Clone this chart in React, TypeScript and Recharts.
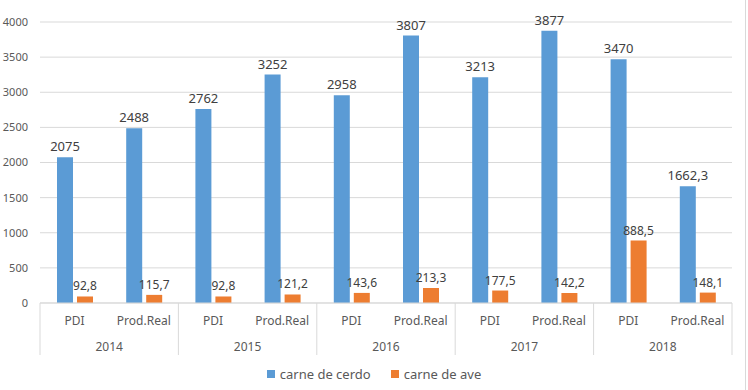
import React from "react";
import {
  Bar,
  BarChart,
  CartesianGrid,
  LabelList,
  Legend,
  XAxis,
  YAxis,
} from "recharts";

const years = ["2014", "2015", "2016", "2017", "2018"];
const categories = ["PDI", "Prod.Real"];
const carneDeCerdo = [2075, 2488, 2762, 3252, 2958, 3807, 3213, 3877, 3470, 1662.3];
const carneDeAve = [92.8, 115.7, 92.8, 121.2, 143.6, 213.3, 177.5, 142.2, 888.5, 148.1];
const yTicks = [0, 500, 1000, 1500, 2000, 2500, 3000, 3500, 4000];

const data = years.flatMap((year, yi) =>
  categories.map((cat, ci) => {
    const i = yi * categories.length + ci;
    return {
      key: `${year}-${cat}`,
      year,
      cat,
      cerdo: carneDeCerdo[i],
      ave: carneDeAve[i],
    };
  })
);

const WIDTH = 748;
const HEIGHT = 390;
const PLOT_LEFT = 40;
const PLOT_RIGHT = 732;
const BAND = (PLOT_RIGHT - PLOT_LEFT) / data.length;
const TEXT = "#595959";
const GRID = "#d9d9d9";
const FONT = "'Noto Sans', sans-serif";

const fmt = (v: any) => String(v).replace(".", ",");

const TwoLevelTick = (props: any) => {
  const { x, y, payload } = props;
  const row = data[payload.index];
  const first = payload.index % categories.length === 0;
  const last = payload.index === data.length - 1;
  return (
    <g>
      <text x={x} y={y + 22} textAnchor="middle" fill={TEXT} fontSize={12} fontFamily={FONT}>
        {row.cat}
      </text>
      {first && (
        <>
          <line x1={x - BAND / 2} x2={x - BAND / 2} y1={y} y2={y + 52} stroke={GRID} />
          <text x={x + BAND / 2} y={y + 48} textAnchor="middle" fill={TEXT} fontSize={12} fontFamily={FONT}>
            {row.year}
          </text>
        </>
      )}
      {last && <line x1={x + BAND / 2} x2={x + BAND / 2} y1={y} y2={y + 52} stroke={GRID} />}
    </g>
  );
};

const LegendContent = () => (
  <div
    style={{
      display: "flex",
      justifyContent: "center",
      gap: 20,
      fontFamily: FONT,
      fontSize: 13,
      color: TEXT,
    }}
  >
    {[
      { name: "carne de cerdo", color: "#5B9BD5" },
      { name: "carne de ave", color: "#ED7D31" },
    ].map((it) => (
      <span key={it.name} style={{ display: "flex", alignItems: "center" }}>
        <span style={{ width: 8, height: 8, background: it.color, marginRight: 5 }} />
        {it.name}
      </span>
    ))}
  </div>
);

export default function App() {
  return (
    <div style={{ position: "absolute", left: 0, top: 0, width: WIDTH, height: HEIGHT, background: "#fff" }}>
      <BarChart
        width={WIDTH}
        height={HEIGHT}
        data={data}
        margin={{ top: 22, right: WIDTH - PLOT_RIGHT, left: 0, bottom: 32 }}
        barSize={16}
        barGap={4}
      >
        <CartesianGrid vertical={false} stroke={GRID} />
        <XAxis
          dataKey="key"
          height={55}
          interval={0}
          tickLine={false}
          tickSize={0}
          tickMargin={0}
          axisLine={{ stroke: GRID }}
          tick={<TwoLevelTick />}
        />
        <YAxis
          width={PLOT_LEFT}
          domain={[0, 4000]}
          ticks={yTicks}
          axisLine={false}
          tickLine={false}
          tickSize={0}
          tickMargin={12}
          tick={{ fill: TEXT, fontSize: 11, fontFamily: FONT }}
        />
        <Legend
          layout="horizontal"
          verticalAlign="middle"
          align="center"
          content={<LegendContent />}
          wrapperStyle={{ top: 365, left: 0, width: WIDTH }}
        />
        <Bar dataKey="cerdo" name="carne de cerdo" fill="#5B9BD5" isAnimationActive={false}>
          <LabelList
            dataKey="cerdo"
            position="top"
            offset={6}
            formatter={fmt}
            fill="#404040"
            fontSize={13}
            fontFamily={FONT}
          />
        </Bar>
        <Bar dataKey="ave" name="carne de ave" fill="#ED7D31" isAnimationActive={false}>
          <LabelList
            dataKey="ave"
            position="top"
            offset={6}
            formatter={fmt}
            fill="#404040"
            fontSize={12}
            fontFamily={FONT}
          />
        </Bar>
      </BarChart>
      <div style={{ position: "absolute", left: 745, top: 0, width: 1, height: HEIGHT, background: GRID }} />
    </div>
  );
}
